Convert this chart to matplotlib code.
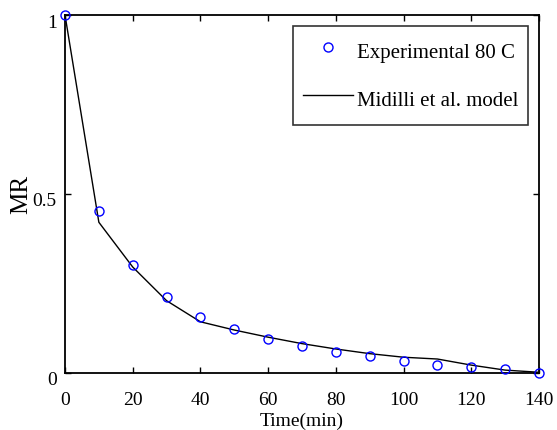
import numpy as np
import matplotlib
matplotlib.use("Agg")
import matplotlib.pyplot as plt
from matplotlib.transforms import ScaledTranslation

# drying data, 80 C
time_min = [0, 10, 20, 30, 40, 50, 60, 70, 80, 90, 100, 110, 120, 130, 140]
mr_exp = [1.0, 0.453, 0.302, 0.213, 0.157, 0.123, 0.095, 0.074, 0.058, 0.047,
          0.034, 0.022, 0.016, 0.010, 0.001]
mr_model = [1.0, 0.421, 0.296, 0.202, 0.143, 0.120, 0.100, 0.082, 0.067, 0.054,
            0.044, 0.039, 0.022, 0.008, 0.002]

xticks = [0, 20, 40, 60, 80, 100, 120, 140]
yticks = [0, 0.5, 1]
yticklabels = ["0", "0.5", "1"]

plt.rcParams['font.family'] = ['Liberation Serif', 'DejaVu Serif']

fig = plt.figure(figsize=(5.57, 4.30), dpi=100)
ax = fig.add_axes([0.1167, 0.1326, 0.851, 0.8325])

ax.plot(time_min, mr_exp, 'o', mfc='none', mec='#0000ff', ms=6.5, mew=1.0,
        label='Experimental 80 C', clip_on=False, zorder=3)
ax.plot(time_min, mr_model, '-', color='black', lw=1.0,
        label='Midilli et al. model', clip_on=False)

ax.set_xlim(0, 140)
ax.set_ylim(0, 1)
ax.set_xticks(xticks)
ax.set_yticks(yticks)
ax.set_yticklabels(yticklabels)
ax.tick_params(direction='in', length=4, width=1, top=True, right=True,
               labelsize=14)
ax.tick_params(axis='x', pad=14)
ax.tick_params(axis='y', pad=6)
for s in ax.spines.values():
    s.set_linewidth(1.3)

# matlab-style: y labels sit a bit low
shift = ScaledTranslation(0, -0.06, fig.dpi_scale_trans)
for lab in ax.get_yticklabels():
    lab.set_transform(lab.get_transform() + shift)

ax.set_xlabel('Time(min)', fontsize=14, labelpad=2)
ax.set_ylabel('MR', fontsize=18, labelpad=0)

leg = ax.legend(loc='upper right', bbox_to_anchor=(0.9775, 0.97), fontsize=15,
                frameon=True, fancybox=False, edgecolor='black',
                handlelength=2.4, handleheight=1.85, handletextpad=0.15,
                borderpad=0.5, labelspacing=0.85, borderaxespad=0)
leg.get_frame().set_linewidth(1.2)

fig.savefig('out.png', dpi=100)
